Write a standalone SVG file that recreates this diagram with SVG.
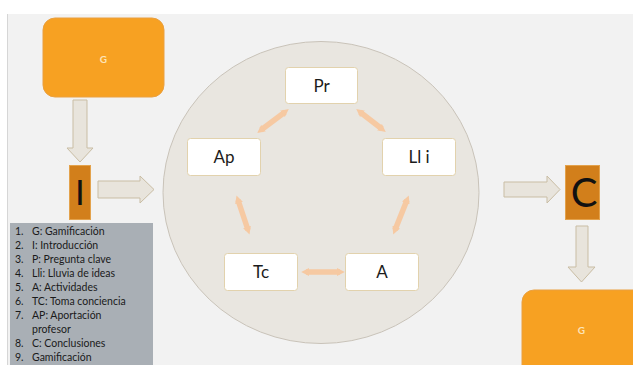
<svg xmlns="http://www.w3.org/2000/svg" width="633" height="365" viewBox="0 0 633 365">
<style>
.txt{font-family:Lato,"Open Sans","DejaVu Sans",sans-serif}
.gbox{fill:#f7a122;stroke:#eaa040;stroke-width:1}
.glab{font-family:Lato,sans-serif;font-size:10px;font-weight:bold;fill:#fde4b8;text-anchor:middle}
.dark{fill:#d27f1b;stroke:#e3a24c;stroke-width:1}
.blk{fill:#e8e4dc;stroke:#c9bda4;stroke-width:1}
.node{fill:#ffffff;stroke:#e2d2ad;stroke-width:1}
.nlab{font-family:Lato,"Open Sans",sans-serif;font-size:17px;fill:#1b1b1b;text-anchor:middle}
.conn{stroke:#f6c9a2;stroke-width:5.5;fill:none;marker-start:url(#ah);marker-end:url(#ah)}
.list{font-family:Lato,"Open Sans",sans-serif;font-size:10.5px;fill:#1a1a1a}
</style>
<defs>
<marker id="ah" viewBox="0 0 10 10" refX="4" refY="5" markerWidth="8" markerHeight="10" markerUnits="userSpaceOnUse" orient="auto-start-reverse">
<path d="M0,0 L10,5 L0,10 z" fill="#f6c9a2"/>
</marker>
</defs>
<rect x="0" y="0" width="633" height="365" fill="#ffffff"/>
<rect x="7" y="14" width="626" height="351" fill="#f2f2f2"/>
<line x1="7.5" y1="14" x2="7.5" y2="365" stroke="#d6d6d6" stroke-width="1"/>

<ellipse cx="321" cy="192.5" rx="158" ry="151" fill="#e9e6e0" stroke="#c9c3b9" stroke-width="1"/>

<g id="connectors">
<path class="blk" d="M73,100 H87 V148 H93 L80,162 L67,148 H73 Z"/>
<path class="blk" d="M98,181 H140 V176 L154,189.5 L140,203 V198 H98 Z"/>
<path class="blk" d="M504,182 H547 V176 L560,189.5 L547,203 V197 H504 Z"/>
<path class="blk" d="M576,226 H588 V267 H595 L581.5,282 L568,267 H576 Z"/>
<line class="conn" x1="360" y1="112" x2="382" y2="129"/>
<line class="conn" x1="285" y1="112" x2="261" y2="130"/>
<line class="conn" x1="238" y1="200" x2="248" y2="230"/>
<line class="conn" x1="407" y1="200" x2="395" y2="230"/>
<line class="conn" x1="306" y1="272" x2="340" y2="272"/>
</g>

<g id="g-top">
<rect class="gbox" x="43" y="18" width="121" height="79" rx="12"/>
<text class="glab" x="103.5" y="62.5">G</text>
</g>

<g id="i-box">
<rect class="dark" x="69.5" y="165.5" width="21" height="54"/>
<text class="txt" x="80" y="205" font-size="35" fill="#111" text-anchor="middle">I</text>
</g>

<g id="node-pr">
<rect class="node" x="285.5" y="67.5" width="72" height="36" rx="3"/>
<text class="nlab" x="321.5" y="92">Pr</text>
</g>
<g id="node-lli">
<rect class="node" x="382.5" y="138.5" width="73" height="37" rx="3"/>
<text class="nlab" x="419" y="163">Ll i</text>
</g>
<g id="node-ap">
<rect class="node" x="187.5" y="138.5" width="73" height="37" rx="3"/>
<text class="nlab" x="224" y="163">Ap</text>
</g>
<g id="node-tc">
<rect class="node" x="224.5" y="253.5" width="73" height="37" rx="3"/>
<text class="nlab" x="261" y="278">Tc</text>
</g>
<g id="node-a">
<rect class="node" x="345.5" y="253.5" width="73" height="37" rx="3"/>
<text class="nlab" x="382" y="278">A</text>
</g>

<g id="c-box">
<rect class="dark" x="565.5" y="165.5" width="34" height="54"/>
<text class="txt" x="584" y="207" font-size="40" fill="#111" text-anchor="middle">C</text>
</g>

<g id="g-bottom">
<rect class="gbox" x="522" y="290" width="130" height="90" rx="12"/>
<text class="glab" x="581.5" y="334">G</text>
</g>

<g id="legend">
<rect x="10" y="223" width="143" height="142" fill="#a9afb5"/>
<text class="list" x="15" y="235">1.</text><text class="list" x="32" y="235">G: Gamificación</text>
<text class="list" x="15" y="249">2.</text><text class="list" x="32" y="249">I: Introducción</text>
<text class="list" x="15" y="263">3.</text><text class="list" x="32" y="263">P: Pregunta clave</text>
<text class="list" x="15" y="277">4.</text><text class="list" x="32" y="277">Lli: Lluvia de ideas</text>
<text class="list" x="15" y="291">5.</text><text class="list" x="32" y="291">A:  Actividades</text>
<text class="list" x="15" y="305">6.</text><text class="list" x="32" y="305">TC: Toma conciencia</text>
<text class="list" x="15" y="319">7.</text><text class="list" x="32" y="319">AP: Aportación</text>
<text class="list" x="32" y="333">profesor</text>
<text class="list" x="15" y="347">8.</text><text class="list" x="32" y="347">C: Conclusiones</text>
<text class="list" x="15" y="361">9.</text><text class="list" x="32" y="361">Gamificación</text>
</g>
</svg>
